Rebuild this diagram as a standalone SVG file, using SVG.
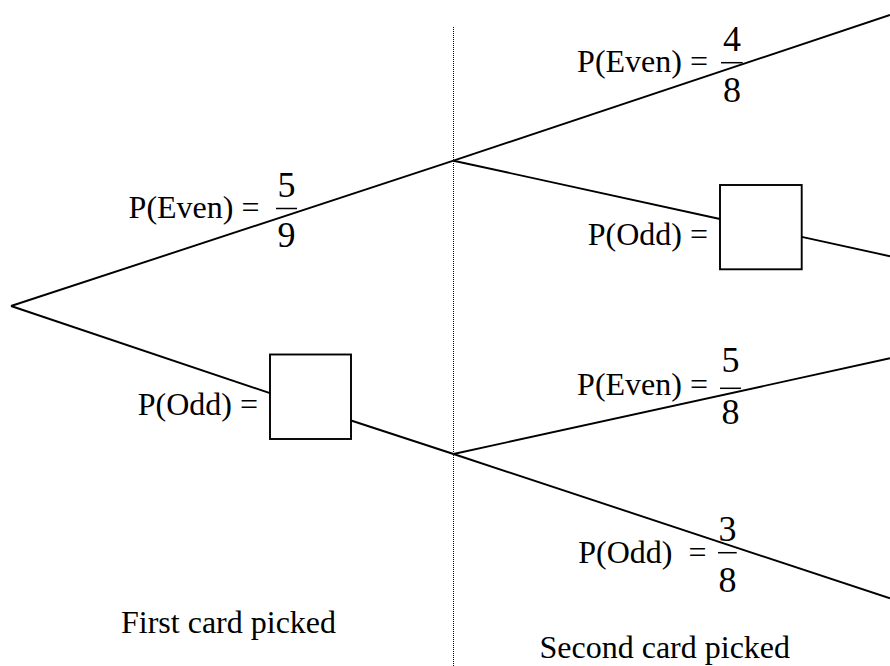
<svg xmlns="http://www.w3.org/2000/svg" width="890" height="666" viewBox="0 0 890 666">
<style>
.t{font-family:"Liberation Serif","Times New Roman",serif;font-size:32px;fill:#000}
.d{font-family:"Liberation Serif","Times New Roman",serif;font-size:36px;fill:#000;text-anchor:middle}
.e{text-anchor:end}
.ln{stroke:#000;stroke-width:1.9;fill:none}
.bar{stroke:#000;stroke-width:1.5}
.box{fill:#fff;stroke:#000;stroke-width:1.9}
.div{stroke:#000;stroke-width:1;stroke-dasharray:1 1;fill:none}
</style>
<rect width="890" height="666" fill="#fff"/>
<g id="divider"><line class="div" x1="453.5" y1="27" x2="453.5" y2="666"/></g>
<g id="connectors">
<line class="ln" x1="11" y1="306" x2="453.5" y2="160.7"/>
<line class="ln" x1="11" y1="306" x2="270" y2="393.2"/>
<line class="ln" x1="351" y1="420.5" x2="453.5" y2="454"/>
<line class="ln" x1="453.5" y1="160.7" x2="890" y2="15"/>
<line class="ln" x1="453.5" y1="160.7" x2="720" y2="219"/>
<line class="ln" x1="801.7" y1="236.9" x2="890" y2="256.2"/>
<line class="ln" x1="453.5" y1="454" x2="890" y2="358.3"/>
<line class="ln" x1="453.5" y1="454" x2="890" y2="598.3"/>
</g>
<g id="first-even">
<text class="t e" x="259.5" y="218">P(Even) =</text>
<text class="d" x="286.5" y="197">5</text>
<line class="bar" x1="276" y1="208.5" x2="297" y2="208.5"/>
<text class="d" x="286.5" y="246.5">9</text>
</g>
<g id="first-odd">
<text class="t e" x="258" y="415">P(Odd) =</text>
<rect class="box" x="270" y="354.5" width="81" height="84.5"/>
</g>
<g id="even-even">
<text class="t e" x="708" y="71.7">P(Even) =</text>
<text class="d" x="732" y="50.5">4</text>
<line class="bar" x1="721" y1="62.7" x2="742.7" y2="62.7"/>
<text class="d" x="732" y="101.7">8</text>
</g>
<g id="even-odd">
<text class="t e" x="708" y="245">P(Odd) =</text>
<rect class="box" x="720" y="185" width="81.7" height="84.3"/>
</g>
<g id="odd-even">
<text class="t e" x="708" y="395">P(Even) =</text>
<text class="d" x="730.5" y="372">5</text>
<line class="bar" x1="720" y1="388.3" x2="741" y2="388.3"/>
<text class="d" x="730.5" y="424">8</text>
</g>
<g id="odd-odd">
<text class="t e" x="706.5" y="563.3" xml:space="preserve">P(Odd)  =</text>
<text class="d" x="727.5" y="540.5">3</text>
<line class="bar" x1="718" y1="552.7" x2="736.7" y2="552.7"/>
<text class="d" x="727.5" y="591.7">8</text>
</g>
<g id="captions">
<text class="t" x="121" y="633.3">First card picked</text>
<text class="t" x="539.5" y="658">Second card picked</text>
</g>
</svg>
